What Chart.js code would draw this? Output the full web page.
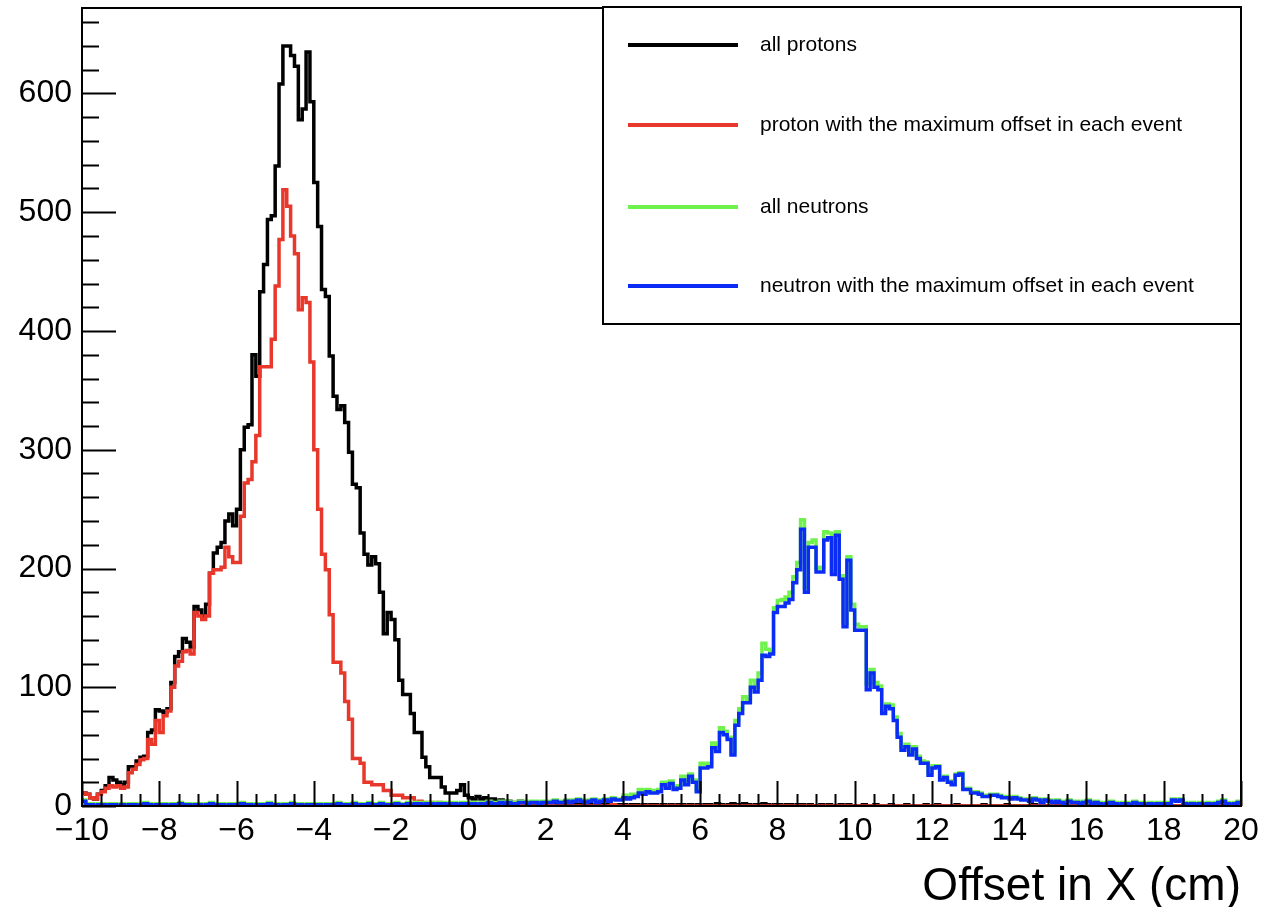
<!DOCTYPE html>
<html>
<head>
<meta charset="utf-8">
<script src="https://cdn.jsdelivr.net/npm/chart.js@4.4.1/dist/chart.umd.min.js"></script>
<style>
  html, body { margin: 0; padding: 0; background: #fff; }
  canvas { display: block; }
</style>
</head>
<body>
<canvas id="offsetChart" width="1261" height="907"></canvas>
<script>
const FONT = "'Liberation Sans', Arial, Helvetica, sans-serif";

// histogram binning: 300 bins of 0.1 cm from -10 to 20
const X_MIN = -10;
const X_MAX = 20;
const BIN_WIDTH = 0.1;
const Y_MAX = 672;

const xTicks = [-10, -8, -6, -4, -2, 0, 2, 4, 6, 8, 10, 12, 14, 16, 18, 20];
const yTicks = [0, 100, 200, 300, 400, 500, 600];

const seriesLabels = [
  "all protons",
  "proton with the maximum offset in each event",
  "all neutrons",
  "neutron with the maximum offset in each event"
];

// all protons (black)
const protonAll = [
  11, 10, 7, 6, 10, 13, 17, 24, 22, 20,
  18, 20, 33, 33, 38, 41, 42, 62, 64, 81,
  80, 79, 82, 104, 126, 130, 141, 138, 134, 168,
  165, 160, 170, 196, 213, 218, 222, 240, 246, 236,
  250, 300, 319, 321, 380, 362, 433, 456, 494, 497,
  539, 608, 640, 640, 632, 623, 578, 587, 635, 593,
  525, 488, 435, 429, 379, 345, 334, 337, 323, 298,
  271, 268, 230, 212, 203, 210, 204, 180, 145, 163,
  157, 140, 106, 94, 94, 78, 62, 62, 41, 33,
  24, 24, 24, 16, 11, 11, 11, 13, 18, 9,
  7, 6, 8, 6, 7, 5, 6, 4, 5, 3,
  4, 3, 2, 4, 3, 2, 3, 2, 3, 2,
  2, 3, 1, 2, 2, 1, 2, 1, 1, 2,
  1, 1, 0, 2, 1, 0, 1, 1, 0, 1,
  1, 0, 1, 1, 0, 1, 0, 1, 1, 0,
  1, 0, 1, 0, 1, 1, 0, 1, 0, 1,
  0, 1, 1, 0, 2, 1, 0, 1, 2, 1,
  1, 2, 1, 0, 1, 1, 2, 1, 0, 1,
  1, 0, 1, 1, 0, 1, 1, 0, 1, 0,
  0, 1, 0, 1, 0, 0, 1, 0, 1, 0,
  0, 0, 1, 0, 0, 1, 0, 0, 0, 1,
  0, 0, 0, 1, 0, 0, 0, 0, 1, 0,
  0, 1, 0, 0, 0, 0, 1, 0, 0, 0,
  0, 0, 0, 1, 0, 0, 0, 0, 0, 1,
  0, 0, 0, 0, 0, 0, 1, 0, 0, 0,
  0, 0, 1, 0, 0, 0, 0, 0, 0, 0,
  0, 0, 0, 0, 1, 0, 0, 0, 0, 0,
  0, 1, 0, 0, 0, 0, 0, 0, 0, 0,
  0, 0, 0, 0, 0, 1, 0, 0, 0, 0,
  0, 0, 0, 0, 0, 0, 0, 0, 1, 0
];

// proton with the maximum offset in each event (red)
const protonMax = [
  11, 10, 7, 6, 10, 12, 15, 17, 16, 17,
  15, 16, 28, 31, 35, 39, 40, 56, 52, 72,
  62, 76, 80, 100, 118, 122, 130, 131, 128, 163,
  160, 157, 160, 196, 199, 199, 201, 218, 210, 205,
  205, 244, 272, 275, 290, 312, 370, 370, 370, 393,
  438, 477, 519, 505, 480, 465, 418, 428, 424, 374,
  300, 250, 212, 199, 161, 121, 121, 112, 88, 73,
  40, 40, 36, 20, 20, 18, 18, 18, 13, 13,
  9, 9, 9, 7, 7, 7, 3, 4, 3, 3,
  3, 2, 3, 1, 2, 1, 1, 2, 1, 1,
  1, 0, 1, 0, 0, 1, 0, 0, 1, 0,
  0, 0, 0, 1, 0, 0, 0, 0, 0, 0,
  0, 1, 0, 0, 0, 0, 0, 0, 0, 0,
  0, 0, 0, 0, 0, 0, 0, 1, 0, 0,
  0, 0, 0, 0, 0, 0, 0, 0, 0, 0,
  0, 0, 0, 0, 0, 0, 0, 0, 0, 0,
  0, 0, 0, 0, 0, 0, 0, 0, 0, 0,
  0, 0, 0, 0, 0, 0, 0, 0, 0, 0,
  0, 0, 0, 0, 0, 0, 0, 0, 0, 0,
  0, 0, 0, 0, 0, 0, 0, 0, 0, 0,
  0, 0, 0, 0, 0, 0, 0, 0, 0, 0,
  0, 0, 0, 0, 0, 0, 0, 0, 0, 0,
  0, 0, 0, 0, 0, 0, 0, 0, 0, 0,
  0, 0, 0, 0, 0, 0, 0, 0, 0, 0,
  0, 0, 0, 0, 0, 0, 0, 0, 0, 0,
  0, 0, 0, 0, 0, 0, 0, 0, 0, 0,
  0, 0, 0, 0, 0, 0, 0, 0, 0, 0,
  0, 0, 0, 0, 0, 0, 0, 0, 0, 0,
  0, 0, 0, 0, 0, 0, 0, 0, 0, 0,
  0, 0, 0, 0, 0, 0, 0, 0, 0, 0
];

// all neutrons (green)
const neutronAll = [
  5, 2, 2, 1, 2, 2, 1, 2, 2, 1,
  2, 1, 2, 2, 1, 2, 3, 2, 1, 2,
  2, 2, 1, 2, 2, 3, 2, 2, 1, 2,
  2, 1, 2, 3, 2, 2, 2, 1, 2, 2,
  2, 3, 2, 2, 1, 2, 2, 2, 3, 2,
  2, 1, 2, 2, 3, 2, 2, 1, 2, 2,
  2, 2, 1, 2, 2, 2, 3, 2, 2, 2,
  3, 2, 2, 2, 3, 2, 2, 3, 2, 2,
  2, 3, 2, 2, 3, 2, 3, 3, 2, 3,
  3, 2, 3, 3, 2, 3, 3, 2, 3, 3,
  3, 3, 2, 3, 3, 4, 3, 3, 4, 3,
  4, 3, 3, 4, 4, 3, 4, 4, 3, 4,
  4, 4, 5, 4, 4, 5, 4, 5, 6, 5,
  4, 5, 6, 4, 5, 6, 5, 7, 6, 6,
  9, 8, 10, 10, 14, 13, 14, 13, 13, 14,
  20, 17, 21, 16, 17, 25, 21, 27, 22, 14,
  36, 35, 36, 53, 50, 66, 63, 58, 45, 72,
  82, 92, 90, 106, 100, 112, 137, 132, 130, 167,
  173, 174, 176, 180, 193, 205, 241, 184, 222, 224,
  200, 201, 231, 230, 198, 231, 194, 154, 210, 170,
  153, 151, 151, 103, 115, 104, 101, 80, 86, 85,
  75, 61, 50, 52, 46, 50, 42, 38, 37, 28,
  34, 34, 23, 25, 21, 19, 27, 28, 15, 15,
  12, 12, 11, 9, 9, 10, 10, 9, 8, 8,
  7, 8, 7, 6, 6, 5, 7, 6, 4, 6,
  5, 4, 5, 4, 3, 5, 4, 4, 3, 4,
  5, 3, 4, 3, 2, 3, 4, 3, 2, 3,
  3, 2, 4, 3, 3, 2, 3, 2, 3, 3,
  2, 3, 6, 5, 6, 3, 2, 3, 2, 3,
  2, 3, 2, 3, 4, 5, 3, 2, 3, 4
];

// neutron with the maximum offset in each event (blue)
const neutronMax = [
  4, 1, 1, 0, 1, 1, 0, 1, 1, 0,
  1, 0, 1, 1, 0, 1, 2, 1, 0, 1,
  1, 1, 0, 1, 1, 2, 1, 1, 0, 1,
  1, 0, 1, 2, 1, 1, 1, 0, 1, 1,
  1, 2, 1, 1, 0, 1, 1, 1, 2, 1,
  1, 0, 1, 1, 2, 1, 1, 0, 1, 1,
  1, 1, 0, 1, 1, 1, 2, 1, 1, 1,
  2, 1, 1, 1, 2, 1, 1, 2, 1, 1,
  1, 2, 1, 1, 2, 1, 2, 2, 1, 2,
  2, 1, 2, 2, 1, 2, 2, 1, 2, 2,
  2, 2, 1, 2, 2, 3, 2, 2, 3, 2,
  3, 2, 2, 3, 3, 2, 3, 3, 2, 3,
  3, 3, 4, 3, 3, 4, 3, 4, 5, 4,
  3, 4, 5, 3, 4, 5, 4, 6, 5, 5,
  7, 6, 7, 8, 11, 10, 12, 11, 11, 12,
  18, 15, 19, 14, 15, 22, 18, 25, 20, 12,
  32, 32, 33, 49, 46, 62, 60, 56, 43, 68,
  78, 87, 87, 100, 96, 106, 127, 126, 128, 163,
  168, 168, 171, 174, 188, 199, 233, 180, 218, 218,
  197, 197, 224, 226, 195, 228, 191, 151, 207, 165,
  148, 148, 148, 98, 112, 100, 98, 78, 84, 82,
  72, 58, 47, 50, 43, 48, 40, 36, 36, 26,
  32, 33, 22, 24, 20, 18, 26, 27, 14, 14,
  11, 11, 10, 8, 8, 9, 9, 8, 7, 7,
  6, 7, 6, 5, 5, 4, 6, 5, 3, 5,
  4, 3, 4, 3, 2, 4, 3, 3, 2, 3,
  4, 2, 3, 2, 1, 2, 3, 2, 1, 2,
  2, 1, 3, 2, 2, 1, 2, 1, 2, 2,
  1, 2, 5, 4, 5, 2, 1, 2, 1, 2,
  1, 2, 1, 2, 3, 4, 2, 1, 2, 3
];

const seriesColors = ["#000000", "#e8372b", "#6ff24c", "#0b2cf4"];

// left bin edges, plus the closing edge at X_MAX
const binEdges = [];
for (let i = 0; i <= protonAll.length; i++) {
  binEdges.push(+(X_MIN + i * BIN_WIDTH).toFixed(2));
}

function toSteps(values) {
  const pts = values.map((v, i) => ({ x: binEdges[i], y: v }));
  pts.push({ x: binEdges[values.length], y: values[values.length - 1] });
  return pts;
}

function fmtTick(v) {
  return v < 0 ? "\u2212" + Math.abs(v) : String(v);
}

// ROOT style frame, inner tick marks, legend box and axis title
const rootFrame = {
  id: "rootFrame",
  afterDraw(chart) {
    const { ctx, chartArea: a, scales } = chart;
    const xs = scales.x;
    const ys = scales.y;
    ctx.save();
    ctx.strokeStyle = "#000";
    ctx.lineWidth = 2;
    ctx.beginPath();
    for (let v = X_MIN; v <= X_MAX + 1e-9; v += 0.5) {
      const px = Math.round(xs.getPixelForValue(v)) + 0.5;
      const len = Math.abs(v % 2) < 1e-6 ? 25 : 12;
      ctx.moveTo(px, a.bottom);
      ctx.lineTo(px, a.bottom - len);
    }
    for (let v = 0; v <= Y_MAX; v += 20) {
      const py = Math.round(ys.getPixelForValue(v)) + 0.5;
      const len = v % 100 === 0 ? 34 : 17;
      ctx.moveTo(a.left, py);
      ctx.lineTo(a.left + len, py);
    }
    ctx.stroke();
    ctx.strokeRect(a.left, a.top, a.right - a.left, a.bottom - a.top);

    // legend
    const box = { left: 603, top: 7, right: 1241, bottom: 324 };
    ctx.fillStyle = "#fff";
    ctx.fillRect(box.left, box.top, box.right - box.left, box.bottom - box.top);
    ctx.lineWidth = 2;
    ctx.strokeRect(box.left, box.top, box.right - box.left, box.bottom - box.top);
    const rows = [45, 125, 207, 286];
    ctx.font = "21px " + FONT;
    ctx.textBaseline = "middle";
    ctx.textAlign = "left";
    chart.data.datasets.forEach((ds, i) => {
      ctx.strokeStyle = ds.borderColor;
      ctx.lineWidth = 4;
      ctx.beginPath();
      ctx.moveTo(628, rows[i]);
      ctx.lineTo(738, rows[i]);
      ctx.stroke();
      ctx.fillStyle = "#000";
      ctx.fillText(ds.label, 760, rows[i]);
    });

    // x axis title
    ctx.font = "46px " + FONT;
    ctx.textAlign = "right";
    ctx.textBaseline = "alphabetic";
    ctx.fillText("Offset in X (cm)", 1241, 900);
    ctx.restore();
  }
};

const chartContext = document.getElementById("offsetChart");

const offsetChart = new Chart(chartContext, {
  type: "line",
  data: {
    datasets: [
      { label: seriesLabels[0], data: toSteps(protonAll), borderColor: seriesColors[0], order: 4 },
      { label: seriesLabels[1], data: toSteps(protonMax), borderColor: seriesColors[1], order: 3 },
      { label: seriesLabels[2], data: toSteps(neutronAll), borderColor: seriesColors[2], order: 2 },
      { label: seriesLabels[3], data: toSteps(neutronMax), borderColor: seriesColors[3], order: 1 }
    ]
  },
  options: {
    responsive: false,
    animation: false,
    events: [],
    layout: { padding: { top: 8, right: 20, left: 0, bottom: 0 } },
    elements: {
      point: { radius: 0 },
      line: { borderWidth: 3.5, stepped: true, fill: false, tension: 0 }
    },
    plugins: {
      legend: { display: false },
      tooltip: { enabled: false }
    },
    scales: {
      x: {
        type: "linear",
        min: X_MIN,
        max: X_MAX,
        grid: { display: false, drawTicks: false },
        border: { display: false },
        afterBuildTicks: (s) => { s.ticks = xTicks.map((v) => ({ value: v })); },
        afterFit: (s) => { s.height = 101; s.paddingLeft = 0; s.paddingRight = 0; },
        ticks: {
          color: "#000",
          font: { family: FONT, size: 32 },
          padding: 6,
          maxRotation: 0,
          autoSkip: false,
          callback: (v) => fmtTick(v)
        }
      },
      y: {
        min: 0,
        max: Y_MAX,
        grid: { display: false, drawTicks: false },
        border: { display: false },
        afterBuildTicks: (s) => { s.ticks = yTicks.map((v) => ({ value: v })); },
        afterFit: (s) => { s.width = 82; s.paddingTop = 0; s.paddingBottom = 0; },
        ticks: {
          color: "#000",
          font: { family: FONT, size: 32 },
          padding: 10,
          callback: (v) => fmtTick(v)
        }
      }
    }
  },
  plugins: [rootFrame]
});
</script>
</body>
</html>
